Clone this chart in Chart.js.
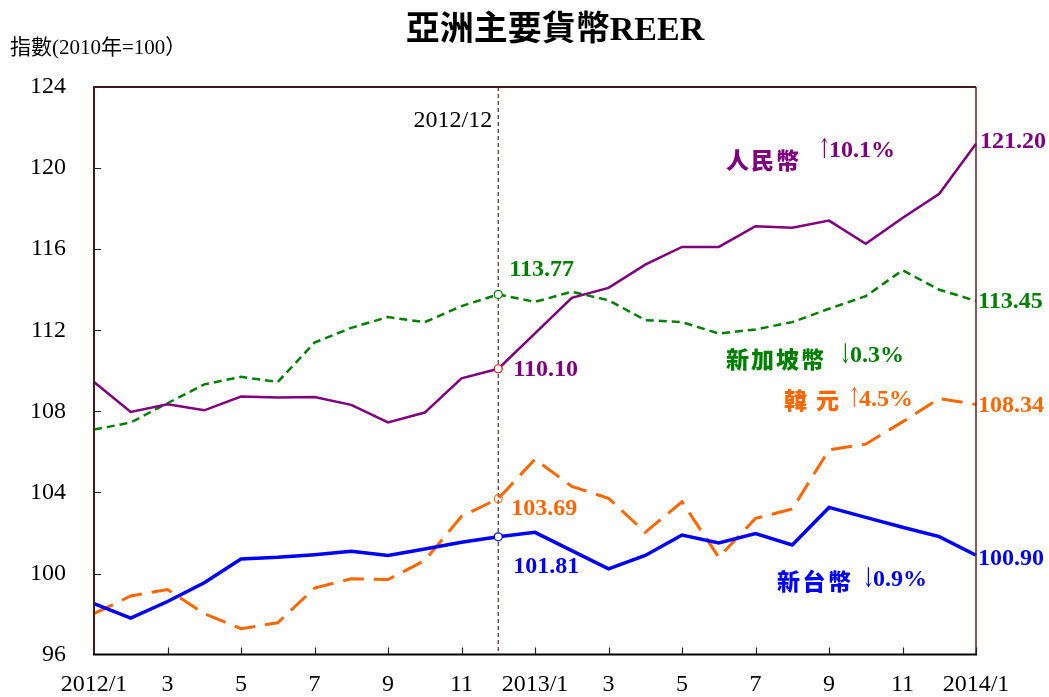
<!DOCTYPE html>
<html><head><meta charset="utf-8">
<script src="https://cdn.jsdelivr.net/npm/chart.js@4/dist/chart.umd.min.js"></script>
<style>html,body{margin:0;padding:0;background:#fff}canvas{display:block}</style>
</head><body>
<canvas id="c" width="1049" height="697"></canvas>
<script>
// ---- data ----
const categories = ['2012/1','2012/2','2012/3','2012/4','2012/5','2012/6','2012/7','2012/8','2012/9','2012/10','2012/11','2012/12',
  '2013/1','2013/2','2013/3','2013/4','2013/5','2013/6','2013/7','2013/8','2013/9','2013/10','2013/11','2013/12','2014/1'];
const xTickLabels = ['2012/1','','3','','5','','7','','9','','11','','2013/1','','3','','5','','7','','9','','11','','2014/1'];
const rmb = [109.45,107.97,108.35,108.05,108.73,108.68,108.71,108.32,107.45,107.94,109.63,110.10,
  111.85,113.60,114.09,115.24,116.11,116.11,117.13,117.06,117.41,116.27,117.54,118.73,121.20];
const sgd = [107.10,107.45,108.40,109.33,109.70,109.45,111.39,112.12,112.65,112.40,113.19,113.77,
  113.40,113.90,113.48,112.50,112.40,111.84,112.04,112.40,113.06,113.68,114.96,114.00,113.45];
const krw = [98.02,98.89,99.21,98.02,97.28,97.57,99.28,99.74,99.70,100.64,102.82,103.69,
  105.64,104.30,103.71,102.03,103.54,100.80,102.72,103.18,106.10,106.38,107.48,108.63,108.34];
const twd = [98.51,97.80,98.62,99.54,100.72,100.80,100.93,101.10,100.89,101.21,101.54,101.81,
  102.03,101.13,100.23,100.89,101.90,101.51,101.97,101.41,103.26,102.77,102.28,101.82,100.90];
const refIndex = 11;       // 2012/12
const refLabel = '2012/12';
const yMin = 96, yMax = 124, yStep = 4;

const SERIF = "'Liberation Serif','Times New Roman',serif";
const SERIF_CJK = "'Liberation Serif','Noto Sans CJK TC',serif";
const CJK = "'Noto Sans CJK TC','Noto Sans CJK SC',sans-serif";

function ptRadius(arr){ return arr.map((v,i)=> i===refIndex ? 4 : 0); }

const overlay = {
  id:'overlay',
  beforeDatasetsDraw(chart){
    const {ctx, chartArea:a, scales:{x}} = chart;
    const rx = x.getPixelForValue(refIndex);
    ctx.save();
    ctx.strokeStyle = '#5a2a2a'; ctx.lineWidth = 1.2; ctx.setLineDash([4,3]);
    ctx.beginPath(); ctx.moveTo(rx, a.top); ctx.lineTo(rx, a.bottom); ctx.stroke();
    ctx.restore();
  },
  afterDatasetsDraw(chart){
    const {ctx, chartArea:a, scales:{x,y}} = chart;
    ctx.save();
    // frame
    ctx.setLineDash([]);
    ctx.lineWidth = 2;
    ctx.strokeStyle = '#4a1818';
    ctx.beginPath(); ctx.moveTo(a.left, a.bottom); ctx.lineTo(a.left, a.top); ctx.lineTo(a.right, a.top); ctx.stroke();
    ctx.lineWidth = 1.5; ctx.strokeStyle = '#6a1c1c';
    ctx.beginPath(); ctx.moveTo(a.right, a.top); ctx.lineTo(a.right, a.bottom); ctx.stroke();
    ctx.lineWidth = 2; ctx.strokeStyle = '#000';
    ctx.beginPath(); ctx.moveTo(a.left-1, a.bottom); ctx.lineTo(a.right+1, a.bottom); ctx.stroke();
    // inner ticks
    ctx.lineWidth = 1.2; ctx.strokeStyle = '#222';
    ctx.beginPath();
    for (let v = yMin + yStep; v < yMax; v += yStep){
      const py = Math.round(y.getPixelForValue(v)) + 0.5;
      ctx.moveTo(a.left, py); ctx.lineTo(a.left + 7, py);
    }
    xTickLabels.forEach((t,i)=>{
      if (!t || i===0) return;
      const px = Math.round(x.getPixelForValue(i)) + 0.5;
      ctx.moveTo(px, a.bottom); ctx.lineTo(px, a.bottom - 7);
    });
    ctx.stroke();

    // titles
    ctx.fillStyle = '#000';
    ctx.textBaseline = 'middle';
    ctx.textAlign = 'center';
    ctx.font = "bold 34px " + SERIF_CJK;
    ctx.fillText('亞洲主要貨幣REER', 555, 31);
    ctx.textAlign = 'left';
    ctx.font = "21px " + SERIF_CJK;
    ctx.fillText('指數(2010年=100）', 10, 48);

    // ref label
    const rx = x.getPixelForValue(refIndex);
    ctx.textAlign = 'right';
    ctx.font = "24px " + SERIF;
    ctx.fillText(refLabel, rx - 6, 121);

    // value labels
    ctx.font = "bold 24px " + SERIF;
    ctx.textAlign = 'left';
    const last = categories.length - 1;
    const lab = (arr, idx, dx, dy, color) => {
      ctx.fillStyle = color;
      ctx.fillText(arr[idx].toFixed(2), x.getPixelForValue(idx) + dx, y.getPixelForValue(arr[idx]) + dy);
    };
    lab(rmb, last, 4, -2, '#800080');
    lab(sgd, last, 2, 1, '#008000');
    lab(krw, last, 2, 1, '#FF6600');
    lab(twd, last, 2, 4, '#0000FF');
    lab(sgd, refIndex, 11, -25, '#008000');
    lab(rmb, refIndex, 15, 1, '#800080');
    lab(krw, refIndex, 13, 10, '#FF6600');
    lab(twd, refIndex, 15, 30, '#0000FF');

    // series notes
    const note = (chars, x0, pitch, cy, arrow, pct, px, py, color) => {
      ctx.fillStyle = color;
      ctx.font = "900 23px " + CJK;
      ctx.textAlign = 'left';
      for (let i=0;i<chars.length;i++) ctx.fillText(chars[i], x0 + i*pitch, cy);
      ctx.font = "26px 'DejaVu Serif',serif";
      ctx.save(); ctx.translate(px, py); ctx.scale(0.6, 1.05);
      ctx.fillText(arrow, 0, 0); ctx.restore();
      ctx.font = "bold 24px " + SERIF;
      ctx.fillText(pct, px + 11, py);
    };
    note('人民幣', 726, 25, 160, '↑', '10.1%', 818, 151, '#800080');
    note('新加坡幣', 726, 25, 359, '↓', '0.3%', 839, 356, '#008000');
    note('韓元', 784, 32, 400, '↑', '4.5%', 848, 400, '#FF6600');
    note('新台幣', 777, 25.5, 581, '↓', '0.9%', 862, 580, '#0000FF');
    ctx.restore();
  }
};

new Chart(document.getElementById('c').getContext('2d'), {
  type: 'line',
  data: {
    labels: categories,
    datasets: [
      {label:'新台幣', data:twd, borderColor:'#0000FF', borderWidth:3.5, pointRadius:ptRadius(twd),
        pointBackgroundColor:'#fff', pointBorderColor:'#0000FF', pointBorderWidth:1.2, tension:0, order:1},
      {label:'韓元', data:krw, borderColor:'#FF6600', borderWidth:3, borderDash:[21,10], pointRadius:ptRadius(krw),
        pointBackgroundColor:'rgba(255,255,255,0)', pointBorderColor:'#FF6600', pointBorderWidth:1.2, tension:0, order:2},
      {label:'人民幣', data:rmb, borderColor:'#800080', borderWidth:2.5, pointRadius:ptRadius(rmb),
        pointBackgroundColor:'#fff', pointBorderColor:'#FF0000', pointBorderWidth:1.2, tension:0, order:3},
      {label:'新加坡幣', data:sgd, borderColor:'#008000', borderWidth:2.5, borderDash:[8,5], pointRadius:ptRadius(sgd),
        pointBackgroundColor:'#fff', pointBorderColor:'#008000', pointBorderWidth:1.2, tension:0, order:4}
    ]
  },
  options: {
    responsive: false,
    animation: false,
    layout: {padding: {left: 0, right: 73, top: 87, bottom: 0}},
    plugins: {legend: {display: false}, tooltip: {enabled: false}, title: {display: false}},
    scales: {
      x: {
        grid: {display: false, drawTicks: false},
        border: {display: false},
        ticks: {autoSkip: false, maxRotation: 0, color: '#000', padding: 16,
          font: {family: SERIF, size: 24}, callback: (v, i) => xTickLabels[i]},
        afterFit: s => { s.height = 41; }
      },
      y: {
        min: yMin, max: yMax,
        grid: {display: false, drawTicks: false},
        border: {display: false},
        ticks: {stepSize: yStep, color: '#000', padding: 28, font: {family: SERIF, size: 24}},
        afterFit: s => { s.width = 94; }
      }
    }
  },
  plugins: [overlay]
});
</script>
</body></html>
